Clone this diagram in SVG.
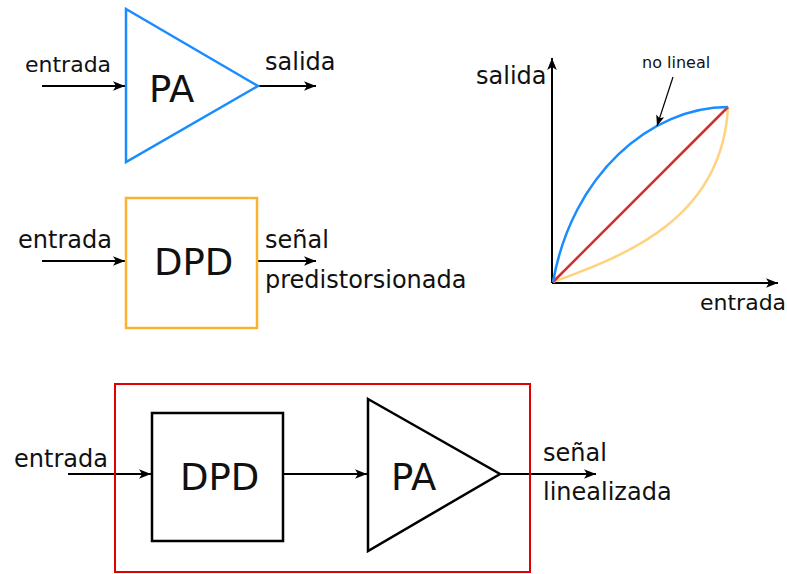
<svg xmlns="http://www.w3.org/2000/svg" width="787" height="574" viewBox="0 0 787 574">
<style>
text{font-family:"DejaVu Sans",Verdana,sans-serif;fill:#111}
.t24{font-size:24px}
.t22{font-size:22px}
.big{font-size:37px}
.ln{stroke:#000;stroke-width:2;fill:none}
.ar{stroke:#000;stroke-width:2;fill:none;marker-end:url(#ah)}
</style>
<defs>
<marker id="ah" viewBox="0 0 10 8" refX="10" refY="4" markerWidth="6" markerHeight="4.8" orient="auto" markerUnits="strokeWidth">
<path d="M0,0 L10,4 L0,8 L2.5,4 Z" fill="#000"/>
</marker>
<marker id="ah2" viewBox="0 0 10 8" refX="10" refY="4" markerWidth="9" markerHeight="7.2" orient="auto" markerUnits="strokeWidth">
<path d="M0,0 L10,4 L0,8 L2.5,4 Z" fill="#000"/>
</marker>
</defs>
<rect width="787" height="574" fill="#fff"/>

<g id="connectors">
<line class="ar" x1="42" y1="86" x2="125" y2="86"/>
<line class="ar" x1="258" y1="86" x2="316" y2="86"/>
<line class="ar" x1="42" y1="261" x2="125" y2="261"/>
<line class="ar" x1="257" y1="261" x2="316" y2="261"/>
<line class="ar" x1="68" y1="474" x2="151" y2="474"/>
<line class="ar" x1="283" y1="474" x2="367" y2="474"/>
<line class="ar" x1="500" y1="474" x2="596" y2="474"/>
</g>

<g id="pa-top">
<polygon points="126,9 258,86 126,162" fill="none" stroke="#1a8cff" stroke-width="2.5"/>
<text class="big" x="149" y="102">PA</text>
</g>
<g id="lbl-top">
<text class="t22" x="25" y="72">entrada</text>
<text class="t24" x="265" y="70">salida</text>
</g>

<g id="dpd-mid">
<rect x="126" y="198" width="131" height="130" fill="none" stroke="#fbb22e" stroke-width="2.5"/>
<text class="big" x="154" y="275">DPD</text>
</g>
<g id="lbl-mid">
<text class="t24" x="18" y="248">entrada</text>
<text class="t24" x="265" y="248">señal</text>
<text class="t24" x="265" y="288">predistorsionada</text>
</g>

<g id="graph">
<line class="ln" x1="552" y1="283" x2="552" y2="58" marker-end="url(#ah)"/>
<line class="ln" x1="552" y1="283" x2="778" y2="283" marker-end="url(#ah)"/>
<path d="M553,282 C620,257 722,222 728,107" fill="none" stroke="#ffd27f" stroke-width="2.5"/>
<line x1="553" y1="282" x2="728" y2="107" stroke="#d62d2d" stroke-width="2.5"/>
<path d="M553,282 C572,175 650,107 728,107" fill="none" stroke="#1a8cff" stroke-width="2.5"/>
<line x1="673" y1="77" x2="657" y2="126" stroke="#000" stroke-width="1.2" marker-end="url(#ah2)"/>
<text x="642" y="68" style="font-size:16px">no lineal</text>
<text class="t24" x="476" y="84">salida</text>
<text class="t22" x="700" y="310">entrada</text>
</g>

<g id="system">
<rect x="115" y="384" width="415" height="188" fill="none" stroke="#e00000" stroke-width="2"/>
</g>
<g id="dpd-bot">
<rect x="152" y="413" width="131" height="128" fill="none" stroke="#000" stroke-width="2.5"/>
<text class="big" x="180" y="490">DPD</text>
</g>
<g id="pa-bot">
<polygon points="368,399 500,474 368,551" fill="none" stroke="#000" stroke-width="2.5"/>
<text class="big" x="391" y="490">PA</text>
</g>
<g id="lbl-bot">
<text class="t24" x="14" y="467">entrada</text>
<text class="t24" x="543" y="461">señal</text>
<text class="t24" x="543" y="500">linealizada</text>
</g>
</svg>
